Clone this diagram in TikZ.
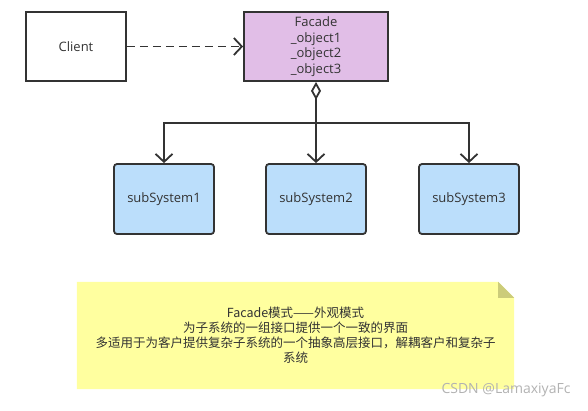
\documentclass[tikz,border=0pt]{standalone}
\usepackage{fontspec}
\setmainfont{Open Sans}
\newfontfamily\cjkfont{Noto Sans CJK SC}
\usetikzlibrary{arrows.meta,backgrounds}

\definecolor{linegray}{HTML}{333333}
\definecolor{facadefill}{HTML}{E1BEE7}
\definecolor{subfill}{HTML}{BBDEFB}
\definecolor{notefill}{HTML}{FFFF9F}
\definecolor{foldfill}{HTML}{CCCC7A}

\begin{document}
\begin{tikzpicture}[x=1pt,y=-1pt]
\tikzset{
  classbox/.style={rectangle,draw=linegray,line width=1.8pt,minimum width=100pt,minimum height=69pt,inner sep=1pt,text=linegray,font=\fontsize{13}{15.5}\selectfont},
  subbox/.style={classbox,fill=subfill,rounded corners=3pt,minimum height=70pt},
  linkedge/.style={draw=linegray,line width=1.8pt,line join=miter},
  openarrow/.style={linkedge,-{Straight Barb[length=8pt,width=17pt,line width=1.8pt]}},
  aggregation/.style={linkedge,{Diamond[open,length=18pt,width=10pt,line width=1.8pt]}-}
}
\useasboundingbox (0,0) rectangle (588,410);
\node[classbox] (n_client) at (76,46.5) {Client};
\node[classbox,fill=facadefill,minimum width=144pt,align=center] (n_facade) at (316,46.5)
  {Facade\\\_object1\\\_object2\\\_object3};
\node[subbox] (n_sub1) at (164,199) {subSystem1};
\node[subbox] (n_sub2) at (316,199) {subSystem2};
\node[subbox] (n_sub3) at (469,199) {subSystem3};
\coordinate (n_split) at (316,123);
\draw[openarrow,dash pattern=on 8pt off 5pt] (n_client) -- (n_facade);
\draw[aggregation] (n_facade.south) -- (n_split);
\draw[openarrow] (n_split) -| (n_sub1.north);
\draw[openarrow] (n_split) -- (n_sub2.north);
\draw[openarrow] (n_split) -| (n_sub3.north);
% note
\node[minimum width=437pt,minimum height=107pt,inner sep=0pt,align=center,text=linegray,
  font=\cjkfont\fontsize{12.5}{15}\selectfont] (n_note) at (295.5,335.5)
  {Facade模式——外观模式\\为子系统的一组接口提供一个一致的界面\\多适用于为客户提供复杂子系统的一个抽象高层接口，解耦客户和复杂子\\系统};
\begin{scope}[on background layer]
\fill[notefill] (n_note.north west) -- ([xshift=-16pt]n_note.north east)
  -- ([yshift=-16pt]n_note.north east) -- (n_note.south east) -- (n_note.south west) -- cycle;
\fill[foldfill] ([xshift=-16pt]n_note.north east) -- ([yshift=-16pt]n_note.north east)
  -- ([xshift=-16pt,yshift=-16pt]n_note.north east) -- cycle;
\end{scope}
\node[text=gray!60,font=\fontsize{14}{16}\selectfont,anchor=east] (n_mark) at (574,390) {CSDN @LamaxiyaFc};
\end{tikzpicture}
\end{document}
